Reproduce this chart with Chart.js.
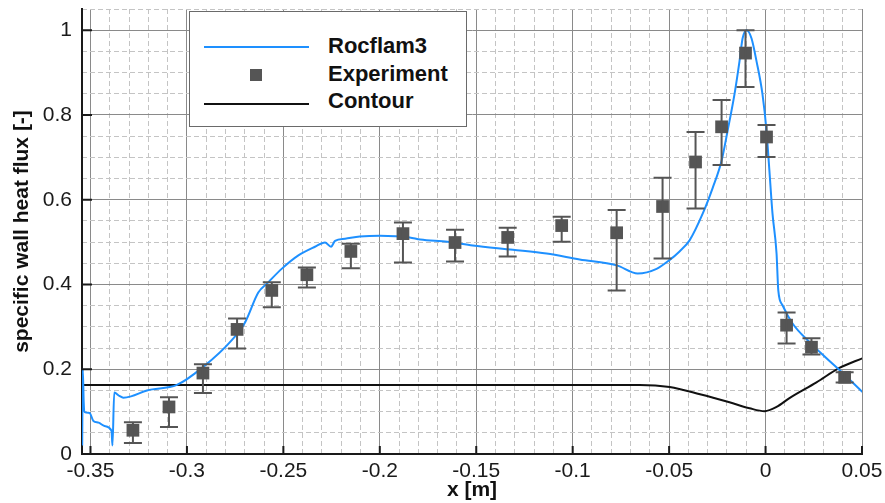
<!DOCTYPE html>
<html>
<head>
<meta charset="utf-8">
<script src="https://cdn.jsdelivr.net/npm/chart.js@4.4.1/dist/chart.umd.min.js"></script>
<style>
  html, body { margin: 0; padding: 0; background: #fff; }
  #wrap { position: relative; width: 885px; height: 503px; }
  #chart { position: absolute; left: 0; top: 0; }
  #legend { position: absolute; left: 189px; top: 11px; width: 278px; height: 116px;
            box-sizing: border-box; border: 1px solid #6a6a6a; background: #fff; }
  .lg-line { position: absolute; left: 14px; width: 105px; height: 2px; }
  .lg-sq { position: absolute; width: 12px; height: 12px; background: #555; }
  .lg-txt { position: absolute; left: 138px; font-family: "Liberation Sans", Arial, Helvetica, sans-serif;
            font-weight: bold; font-size: 22px; line-height: 26px; color: #111; white-space: nowrap; }
</style>
</head>
<body>
<div id="wrap">
  <canvas id="chart" width="885" height="503"></canvas>
  <div id="legend">
    <div class="lg-line" style="top:34px;background:#1E90FF;"></div>
    <div class="lg-sq" style="left:60px;top:57px;"></div>
    <div class="lg-line" style="top:91px;background:#111;"></div>
    <div class="lg-txt" style="top:21px;">Rocflam3</div>
    <div class="lg-txt" style="top:49px;">Experiment</div>
    <div class="lg-txt" style="top:76px;">Contour</div>
  </div>
</div>
<script>
// ---------------- data ----------------
const rocX = [-0.3543, -0.3540, -0.3535, -0.3530, -0.3505, -0.3485, -0.3458, -0.3427, -0.3391, -0.3386,
  -0.3377, -0.3350, -0.3330, -0.3290, -0.3207, -0.3052, -0.2917, -0.2765, -0.2698, -0.2630, -0.2579,
  -0.2506, -0.2424, -0.2336, -0.2284, -0.2253, -0.2232, -0.2180, -0.2104, -0.2000, -0.1845, -0.1790,
  -0.1650, -0.1518, -0.1310, -0.1135, -0.0964, -0.0772, -0.0663, -0.0565, -0.0497, -0.0446, -0.0394,
  -0.0326, -0.0274, -0.0228, -0.0197, -0.0161, -0.0135, -0.0119, -0.0098, -0.0073, -0.0047, -0.0016,
  0.0005, 0.0020, 0.0036, 0.0057, 0.0066, 0.0088, 0.0140, 0.0228, 0.0316, 0.0400, 0.0503];
const rocY = [0.02, 0.20, 0.12, 0.099, 0.097, 0.078, 0.074, 0.066, 0.055, 0.02,
  0.145, 0.137, 0.133, 0.136, 0.150, 0.163, 0.205, 0.270, 0.311, 0.381, 0.405,
  0.438, 0.468, 0.489, 0.499, 0.489, 0.503, 0.508, 0.513, 0.515, 0.511, 0.506,
  0.501, 0.492, 0.482, 0.473, 0.459, 0.445, 0.426, 0.437, 0.458, 0.478, 0.504,
  0.567, 0.628, 0.692, 0.762, 0.849, 0.927, 0.981, 1.0, 0.981, 0.927, 0.849,
  0.762, 0.668, 0.567, 0.473, 0.386, 0.351, 0.308, 0.264, 0.226, 0.191, 0.146];

const contourX = [-0.3544, -0.0653, -0.0497, -0.0340, -0.0187, -0.0083, -0.0005, 0.0057, 0.0124, 0.0264, 0.0383, 0.0503];
const contourY = [0.163, 0.163, 0.158, 0.141, 0.122, 0.108, 0.101, 0.111, 0.132, 0.169, 0.203, 0.226];

const expX  = [-0.328, -0.3093, -0.2917, -0.274, -0.256, -0.2378, -0.215, -0.188, -0.161, -0.1337,
  -0.1057, -0.0772, -0.0534, -0.0363, -0.0228, -0.0104, 0.0005, 0.0109, 0.0238, 0.041];
const expY  = [0.056, 0.111, 0.191, 0.294, 0.386, 0.423, 0.478, 0.520, 0.499, 0.511,
  0.539, 0.522, 0.584, 0.689, 0.772, 0.946, 0.748, 0.304, 0.252, 0.181];
const expHi = [0.075, 0.134, 0.212, 0.320, 0.405, 0.440, 0.496, 0.546, 0.529, 0.534,
  0.560, 0.576, 0.652, 0.760, 0.835, 1.000, 0.776, 0.334, 0.273, 0.193];
const expLo = [0.026, 0.064, 0.144, 0.249, 0.346, 0.393, 0.438, 0.452, 0.454, 0.466,
  0.501, 0.386, 0.461, 0.579, 0.682, 0.866, 0.701, 0.261, 0.235, 0.169];

const xMajorTicks = [-0.35, -0.3, -0.25, -0.2, -0.15, -0.1, -0.05, 0, 0.05];
const xTickLabels = ["-0.35", "-0.3", "-0.25", "-0.2", "-0.15", "-0.1", "-0.05", "0", "0.05"];
const yMajorTicks = [0, 0.2, 0.4, 0.6, 0.8, 1];
const yTickLabels = ["0", "0.2", "0.4", "0.6", "0.8", "1"];

const xMin = -0.3544, xMax = 0.05, yMin = 0, yMax = 1.05;

// minor grid positions (every 0.01 in x, 0.05 in y), excluding majors
const xMinorTicks = [];
for (let i = -35; i <= 5; i++) { if (i % 5 !== 0) xMinorTicks.push(i / 100); }
const yMinorTicks = [];
for (let i = 0; i <= 21; i++) { if (i % 4 !== 0) yMinorTicks.push(i / 20); }

const FONT = '"Liberation Sans", Arial, Helvetica, sans-serif';

const toPts = (xs, ys) => xs.map((v, i) => ({ x: v, y: ys[i] }));

// error bars + inward axis ticks
const extras = {
  id: 'extras',
  afterDatasetsDraw(chart) {
    const { ctx, scales: { x, y } } = chart;
    ctx.save();
    ctx.strokeStyle = '#555';
    ctx.lineWidth = 2;
    expX.forEach((xv, i) => {
      const px = x.getPixelForValue(xv);
      const t = y.getPixelForValue(expHi[i]);
      const b = y.getPixelForValue(expLo[i]);
      ctx.beginPath();
      ctx.moveTo(px, t); ctx.lineTo(px, b);
      ctx.moveTo(px - 9, t); ctx.lineTo(px + 9, t);
      ctx.moveTo(px - 9, b); ctx.lineTo(px + 9, b);
      ctx.stroke();
    });
    ctx.restore();
  },
  afterDraw(chart) {
    const { ctx, chartArea: a, scales: { x, y } } = chart;
    ctx.save();
    ctx.strokeStyle = '#1a1a1a';
    ctx.lineWidth = 2;
    ctx.beginPath();
    yMajorTicks.forEach(v => {
      const py = y.getPixelForValue(v);
      ctx.moveTo(a.left, py); ctx.lineTo(a.left + 10, py);
    });
    xMajorTicks.forEach(v => {
      const px = x.getPixelForValue(v);
      ctx.moveTo(px, a.bottom); ctx.lineTo(px, a.bottom - 8);
    });
    ctx.stroke();
    ctx.restore();
  }
};

new Chart(document.getElementById('chart'), {
  type: 'scatter',
  data: {
    datasets: [
      {
        label: 'Experiment',
        data: toPts(expX, expY),
        showLine: false,
        pointStyle: 'rect',
        pointRadius: 9,
        pointHoverRadius: 9,
        backgroundColor: '#555',
        borderWidth: 0
      },
      {
        label: 'Rocflam3',
        data: toPts(rocX, rocY),
        showLine: true,
        borderColor: '#1E90FF',
        borderWidth: 2,
        pointRadius: 0,
        cubicInterpolationMode: 'monotone',
        fill: false
      },
      {
        label: 'Contour',
        data: toPts(contourX, contourY),
        showLine: true,
        borderColor: '#111',
        borderWidth: 2,
        pointRadius: 0,
        cubicInterpolationMode: 'monotone',
        fill: false
      }
    ]
  },
  options: {
    responsive: false,
    animation: false,
    devicePixelRatio: 1,
    layout: { padding: { left: 0, top: 7.75, right: 23, bottom: 0 } },
    plugins: { legend: { display: false }, tooltip: { enabled: false } },
    scales: {
      x: {
        type: 'linear', position: 'bottom', min: xMin, max: xMax,
        afterBuildTicks: s => { s.ticks = xMajorTicks.map(v => ({ value: v })); },
        afterFit: s => { s.height = 49; s.paddingLeft = 0; s.paddingRight = 0; },
        grid: { color: '#8a8a8a', lineWidth: 1, drawTicks: false },
        border: { display: true, color: '#1a1a1a', width: 2 },
        ticks: {
          autoSkip: false, maxRotation: 0, padding: 5, color: '#1a1a1a',
          font: { family: FONT, size: 21 },
          callback: (v, i) => xTickLabels[i]
        },
        title: { display: true, text: 'x [m]', color: '#111', font: { family: FONT, size: 21, weight: 'bold' }, padding: { top: 0, bottom: 0 } }
      },
      xMinor: {
        type: 'linear', position: 'bottom', min: xMin, max: xMax,
        afterBuildTicks: s => { s.ticks = xMinorTicks.map(v => ({ value: v })); },
        afterFit: s => { s.height = 0; s.paddingLeft = 0; s.paddingRight = 0; },
        grid: { color: '#c4c4c4', lineWidth: 1, drawTicks: false },
        border: { display: false, dash: [5, 3] },
        ticks: { display: false }
      },
      y: {
        type: 'linear', position: 'left', min: yMin, max: yMax,
        afterBuildTicks: s => { s.ticks = yMajorTicks.map(v => ({ value: v })); },
        afterFit: s => { s.width = 82; s.paddingTop = 0; s.paddingBottom = 0; },
        grid: { color: '#8a8a8a', lineWidth: 1, drawTicks: false },
        border: { display: true, color: '#1a1a1a', width: 2 },
        ticks: {
          padding: 10, color: '#1a1a1a',
          font: { family: FONT, size: 21 },
          callback: (v, i) => yTickLabels[i]
        },
        title: { display: true, text: 'specific wall heat flux [-]', color: '#111', font: { family: FONT, size: 21, weight: 'bold' }, padding: { top: 10, bottom: 0 } }
      },
      yMinor: {
        type: 'linear', position: 'left', min: yMin, max: yMax,
        afterBuildTicks: s => { s.ticks = yMinorTicks.map(v => ({ value: v })); },
        afterFit: s => { s.width = 0; s.paddingTop = 0; s.paddingBottom = 0; },
        grid: { color: '#c4c4c4', lineWidth: 1, drawTicks: false },
        border: { display: false, dash: [5, 3] },
        ticks: { display: false }
      }
    }
  },
  plugins: [extras]
});
</script>
</body>
</html>
